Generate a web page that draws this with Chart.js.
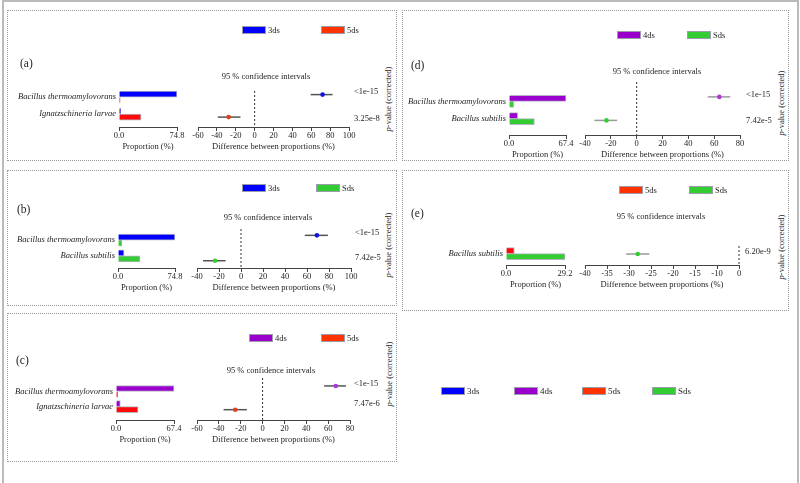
<!DOCTYPE html>
<html>
<head>
<meta charset="utf-8">
<script src="https://cdn.jsdelivr.net/npm/chart.js@4.4.1/dist/chart.umd.min.js"></script>
<style>
  body { margin: 0; background: #fff; }
  #page { position: relative; width: 800px; height: 483px; overflow: hidden; font-family: "Liberation Serif", serif; color: #1e1e1e; }
  .frame { position: absolute; left: 2px; top: 0; width: 793px; height: 520px; border: 2px solid #bbbbbb; border-bottom: none; }
  .box { position: absolute; border: 1px dotted #999; box-sizing: border-box; }
  .t { position: absolute; white-space: nowrap; font-size: 8.5px; line-height: 10px; }
  .flat { will-change: transform; }
  .sw { position: absolute; width: 24px; height: 8px; box-sizing: border-box; border: 1px solid #9c9cac; }
  canvas { position: absolute; }
</style>
</head>
<body>
<div id="page"><div class="frame"></div></div>
<script>
// 📦 DATA
const taxaA = ['Bacillus thermoamylovorans', 'Ignatzschineria larvae'];
const groupsA = ['3ds', '5ds'];
const propA1 = [74.8, 2.2];
const propA2 = [1.5, 28.4];
const diffA = [72.0, -27.5];
const lowA = [59.3, -39.0];
const highA = [82.6, -15.0];
const pvalA = ['<1e-15', '3.25e-8'];
const ticksA = ['-60', '-40', '-20', '0', '20', '40', '60', '80', '100'];
const maxA = 74.8;

const taxaB = ['Bacillus thermoamylovorans', 'Bacillus subtilis'];
const groupsB = ['3ds', 'Sds'];
const propB1 = [74.8, 7.9];
const propB2 = [5.2, 28.9];
const diffB = [69.0, -23.6];
const lowB = [58.0, -34.5];
const highB = [79.0, -14.0];
const pvalB = ['<1e-15', '7.42e-5'];
const ticksB = ['-40', '-20', '0', '20', '40', '60', '80', '100'];
const maxB = 74.8;

const taxaC = ['Bacillus thermoamylovorans', 'Ignatzschineria larvae'];
const groupsC = ['4ds', '5ds'];
const propC1 = [67.4, 5.0];
const propC2 = [2.0, 25.6];
const diffC = [67.0, -25.0];
const lowC = [56.3, -35.7];
const highC = [76.3, -14.4];
const pvalC = ['<1e-15', '7.47e-6'];
const ticksC = ['-60', '-40', '-20', '0', '20', '40', '60', '80'];
const maxC = 67.4;

const taxaD = ['Bacillus thermoamylovorans', 'Bacillus subtilis'];
const groupsD = ['4ds', 'Sds'];
const propD1 = [67.4, 10.3];
const propD2 = [5.5, 30.0];
const diffD = [64.0, -23.4];
const lowD = [55.0, -32.7];
const highD = [72.4, -15.1];
const pvalD = ['<1e-15', '7.42e-5'];
const ticksD = ['-40', '-20', '0', '20', '40', '60', '80'];
const maxD = 67.4;

const taxaE = ['Bacillus subtilis'];
const groupsE = ['5ds', 'Sds'];
const propE1 = [4.1];
const propE2 = [29.2];
const diffE = [-26.3];
const lowE = [-29.3];
const highE = [-23.3];
const pvalE = ['6.20e-9'];
const ticksE = ['-40', '-35', '-30', '-25', '-20', '-15', '-10', '0'];
const maxE = 29.2;

const allGroups = ['3ds', '4ds', '5ds', 'Sds'];

// 🎨 STYLES
const barColors = { '3ds': '#0000ff', '4ds': '#9900cc', '5ds': '#ff0a0a', 'Sds': '#33cc33' };
const swatchColors = { '3ds': '#0000ff', '4ds': '#9900cc', '5ds': '#ff3300', 'Sds': '#33cc33' };
const dotColors = { '3ds': '#1010e0', '4ds': '#b035e0', '5ds': '#e0401a', 'Sds': '#33cc33' };
const INK = '#1e1e1e';
const AXIS = '#444';
const FONT = { family: 'Liberation Serif', size: 8.5 };
const YW = 108, PADL = 14, PADR = 14, HX = 25;

// 📐 LAYOUT (pixels)
const panels = [
  { id: 'a', taxa: taxaA, groups: groupsA, props: [propA1, propA2], diff: diffA, low: lowA, high: highA, pvals: pvalA, ticks: ticksA, max: maxA,
    L: { box: [7, 10, 390, 151], letter: [20, 63], legendX: [242, 321], legendY: 29.5, ciTitle: [266, 76],
         barX0: 119, barX1: 177, axisY: 127, barRow0: 91.5, barStep: 20.2,
         ciX0: 198, ciX1: 349, ciTop: 87, ciRow0: 91, ciStep: 25, pvalX: 354, pvalY: [91, 118], pTitle: [388, 99], ciColor: '#555' } },
  { id: 'b', taxa: taxaB, groups: groupsB, props: [propB1, propB2], diff: diffB, low: lowB, high: highB, pvals: pvalB, ticks: ticksB, max: maxB,
    L: { box: [7, 170, 390, 136], letter: [17, 209], legendX: [242, 316], legendY: 187.5, ciTitle: [268, 217],
         barX0: 118, barX1: 175, axisY: 268, barRow0: 234.7, barStep: 18.8,
         ciX0: 197, ciX1: 351, ciTop: 225, ciRow0: 232, ciStep: 28, pvalX: 355, pvalY: [232, 257], pTitle: [388, 245], ciColor: '#555' } },
  { id: 'c', taxa: taxaC, groups: groupsC, props: [propC1, propC2], diff: diffC, low: lowC, high: highC, pvals: pvalC, ticks: ticksC, max: maxC,
    L: { box: [7, 313, 390, 149], letter: [16, 360], legendX: [249, 321], legendY: 338, ciTitle: [271, 370],
         barX0: 116, barX1: 174, axisY: 420, barRow0: 386, barStep: 18,
         ciX0: 197, ciX1: 350, ciTop: 374, ciRow0: 382.7, ciStep: 26, pvalX: 354, pvalY: [382.7, 403.3], pTitle: [389, 374], ciColor: '#555' } },
  { id: 'd', taxa: taxaD, groups: groupsD, props: [propD1, propD2], diff: diffD, low: lowD, high: highD, pvals: pvalD, ticks: ticksD, max: maxD,
    L: { box: [402, 10, 387, 151], letter: [411, 65], legendX: [617, 687], legendY: 34.5, ciTitle: [656.5, 70.5],
         barX0: 509, barX1: 566, axisY: 135, barRow0: 95.5, barStep: 20.3,
         ciX0: 585, ciX1: 740, ciTop: 78, ciRow0: 94, ciStep: 25.3, pvalX: 746, pvalY: [94, 120], pTitle: [781, 103], ciColor: '#999' } },
  { id: 'e', taxa: taxaE, groups: groupsE, props: [propE1, propE2], diff: diffE, low: lowE, high: highE, pvals: pvalE, ticks: ticksE, max: maxE,
    L: { box: [402, 170, 387, 141], letter: [411, 212.7], legendX: [619, 689], legendY: 190, ciTitle: [661, 215.7],
         barX0: 506, barX1: 565, axisY: 265, barRow0: 249.5, barStep: 20,
         ciX0: 585, ciX1: 739, ciTop: 242, ciRow0: 251.7, ciStep: 25, pvalX: 745, pvalY: [250.7], pTitle: [781, 246.7], ciColor: '#999' } }
];
const mainLegendX = [441, 514, 582, 652];
const mainLegendY = 391;

const page = document.getElementById('page');
Chart.defaults.font.family = 'Liberation Serif';

function txt(x, y, html, tf) {
  const d = document.createElement('div');
  d.className = tf && tf.includes('rotate') ? 't' : 't flat';
  d.innerHTML = html;
  d.style.left = x + 'px';
  d.style.top = y + 'px';
  d.style.transform = tf || 'translate(0,-50%)';
  page.appendChild(d);
  return d;
}

function swatch(x, y, color) {
  const d = document.createElement('div');
  d.className = 'sw';
  d.style.left = x + 'px';
  d.style.top = (y - 4) + 'px';
  d.style.background = color;
  page.appendChild(d);
}

function addCanvas(left, top, w, h) {
  const cv = document.createElement('canvas');
  cv.width = Math.round(w);
  cv.height = Math.round(h);
  cv.style.left = Math.round(left) + 'px';
  cv.style.top = Math.round(top) + 'px';
  page.appendChild(cv);
  return cv;
}

function xAxis(min, max, tickValues, labelOf, title) {
  return {
    type: 'linear', min: min, max: max, offset: false,
    grid: { drawOnChartArea: false, drawTicks: true, tickLength: 4, color: AXIS },
    border: { display: true, color: AXIS, width: 1 },
    afterBuildTicks: s => { s.ticks = tickValues.map(v => ({ value: v })); },
    afterFit: s => { s.height = HX; s.paddingLeft = 0; s.paddingRight = 0; },
    ticks: { font: FONT, color: INK, padding: 0, maxRotation: 0, autoSkip: false, callback: labelOf },
    title: { display: true, text: title, font: FONT, color: INK, padding: 0 }
  };
}

// 📊 BARRES
function barChart(p) {
  const L = p.L;
  const top = Math.round(L.barRow0 - 16);
  const cv = addCanvas(L.barX0 - YW, top, YW + (L.barX1 - L.barX0) + PADR, (L.axisY - top) + HX);
  new Chart(cv, {
    type: 'bar',
    data: {
      datasets: p.groups.map((g, k) => ({
        label: g,
        data: p.props[k].map((v, i) => ({ x: v, y: i })),
        backgroundColor: barColors[g],
        borderColor: 'rgba(160,160,180,0.8)',
        borderWidth: 1,
        barThickness: 6
      }))
    },
    options: {
      indexAxis: 'y',
      responsive: false, animation: false, devicePixelRatio: 1,
      layout: { padding: { left: 0, right: PADR, top: 0, bottom: 0 } },
      plugins: { legend: { display: false }, tooltip: { enabled: false } },
      scales: {
        x: xAxis(0, p.max, [0, p.max], v => v.toFixed(1), 'Proportion (%)'),
        y: {
          type: 'linear', reverse: true, offset: false,
          min: (top - L.barRow0) / L.barStep, max: (L.axisY - L.barRow0) / L.barStep,
          grid: { display: false, drawTicks: false },
          border: { display: false },
          afterBuildTicks: s => { s.ticks = p.taxa.map((_, i) => ({ value: i })); },
          afterFit: s => { s.width = YW; },
          ticks: { font: { family: 'Liberation Serif', size: 8.5, style: 'italic' }, color: INK, padding: 3, autoSkip: false,
                   callback: (v, i) => p.taxa[i] }
        }
      }
    }
  });
}

// 📈 INTERVALLES DE CONFIANCE
function ciChart(p) {
  const L = p.L;
  const lo = parseFloat(p.ticks[0]);
  const hi = parseFloat(p.ticks[p.ticks.length - 1]);
  const tickValues = p.ticks.map((_, i) => lo + i * (hi - lo) / (p.ticks.length - 1));
  const yMin = (L.ciTop - L.ciRow0) / L.ciStep;
  const yMax = (L.axisY - L.ciRow0) / L.ciStep;

  const datasets = [{
    data: p.diff.map((d, i) => ({ x: d, y: i })),
    pointBackgroundColor: p.diff.map((d, i) => dotColors[p.props[0][i] >= p.props[1][i] ? p.groups[0] : p.groups[1]]),
    pointBorderWidth: 0,
    pointRadius: 2.3
  }];
  p.diff.forEach((d, i) => datasets.push({
    data: [{ x: p.low[i], y: i }, { x: p.high[i], y: i }],
    showLine: true, borderColor: L.ciColor, borderWidth: 1.5, pointRadius: 0
  }));
  datasets.push({
    data: [{ x: 0, y: yMin }, { x: 0, y: yMax }],
    showLine: true, borderColor: '#333', borderWidth: 1, borderDash: [2, 2], pointRadius: 0, clip: false
  });

  const cv = addCanvas(L.ciX0 - PADL, L.ciTop, PADL + (L.ciX1 - L.ciX0) + PADR, (L.axisY - L.ciTop) + HX);
  new Chart(cv, {
    type: 'scatter',
    data: { datasets: datasets },
    options: {
      responsive: false, animation: false, devicePixelRatio: 1,
      layout: { padding: { left: PADL, right: PADR, top: 0, bottom: 0 } },
      plugins: { legend: { display: false }, tooltip: { enabled: false } },
      scales: {
        x: xAxis(lo, hi, tickValues, (v, i) => p.ticks[i], 'Difference between proportions (%)'),
        y: { type: 'linear', display: false, reverse: true, min: yMin, max: yMax }
      }
    }
  });
}

function drawPanel(p) {
  const L = p.L;
  const b = document.createElement('div');
  b.className = 'box';
  b.style.left = L.box[0] + 'px';
  b.style.top = L.box[1] + 'px';
  b.style.width = L.box[2] + 'px';
  b.style.height = L.box[3] + 'px';
  page.appendChild(b);

  txt(L.letter[0], L.letter[1], '(' + p.id + ')').style.fontSize = '11.5px';
  p.groups.forEach((g, k) => {
    swatch(L.legendX[k], L.legendY, swatchColors[g]);
    txt(L.legendX[k] + 26, L.legendY, g);
  });
  txt(L.ciTitle[0], L.ciTitle[1], '95 % confidence intervals', 'translate(-50%,-50%)');
  p.pvals.forEach((v, i) => txt(L.pvalX, L.pvalY[i], v.replace('<', '&lt;')));
  txt(L.pTitle[0], L.pTitle[1], '<i>p</i>-value (corrected)', 'translate(-50%,-50%) rotate(-90deg)');

  barChart(p);
  ciChart(p);
}

panels.forEach(drawPanel);

allGroups.forEach((g, k) => {
  swatch(mainLegendX[k], mainLegendY, swatchColors[g]);
  txt(mainLegendX[k] + 26, mainLegendY, g).style.fontSize = '9px';
});
</script>
</body>
</html>
